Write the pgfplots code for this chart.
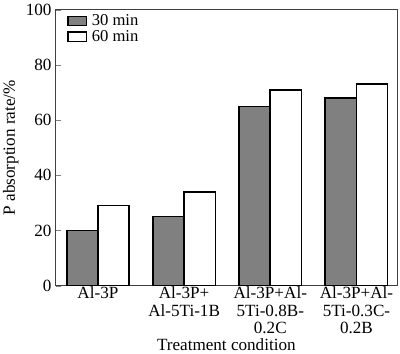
\documentclass[border=0pt]{standalone}
\usepackage{fontspec}
\setmainfont{Liberation Serif}
\usepackage{pgfplots}
\pgfplotsset{compat=1.18}
\begin{document}
\begin{tikzpicture}[font=\fontsize{17}{18}\selectfont]
\begin{axis}[
  scale only axis,
  width=339pt, height=274pt,
  ybar=0pt, bar width=31pt,
  xmin=-0.49, xmax=3.47,
  ymin=0, ymax=100,
  ytick={0,20,40,60,80,100},
  ytick pos=left,
  tick align=inside,
  major tick length=5pt,
  xtick={0,1,2,3},
  xticklabels={{Al-3P},{Al-3P+\\Al-5Ti-1B},{Al-3P+Al-\\5Ti-0.8B-\\0.2C},{Al-3P+Al-\\5Ti-0.3C-\\0.2B}},
  xticklabel style={align=center, inner sep=1pt, font=\fontsize{17}{17.5}\selectfont},
  x tick style={draw=none},
  yticklabel style={inner sep=4pt},
  /pgf/number format/assume math mode=true,
  axis line style={draw=black!75, line width=0.8pt},
  ylabel={P absorption rate/\%},
  xlabel={Treatment condition},
  ylabel style={inner sep=3pt},
  xlabel style={inner sep=1pt, yshift=-2pt},
  legend style={at={(0.025,0.99)}, anchor=north west, draw=none, fill=none,
    row sep=3pt, font=\fontsize{16.5}{16.5}\selectfont,
    nodes={inner xsep=5pt, inner ysep=0pt}},
  legend cell align=left,
  legend image code/.code={\draw[#1, line width=1.2pt] (0pt,-4.5pt) rectangle (18pt,4.5pt);},
]
\addplot[draw=black, line width=1.6pt, fill=gray] coordinates {(0,20) (1,25) (2,65) (3,68)};
\addplot[draw=black, line width=1.6pt, fill=white] coordinates {(0,29) (1,34) (2,71) (3,73)};
\legend{30 min, 60 min}
\end{axis}
\path ([xshift=3pt]current axis.north east);
\path ([yshift=-2pt]current axis.outer south);
\end{tikzpicture}
\end{document}
